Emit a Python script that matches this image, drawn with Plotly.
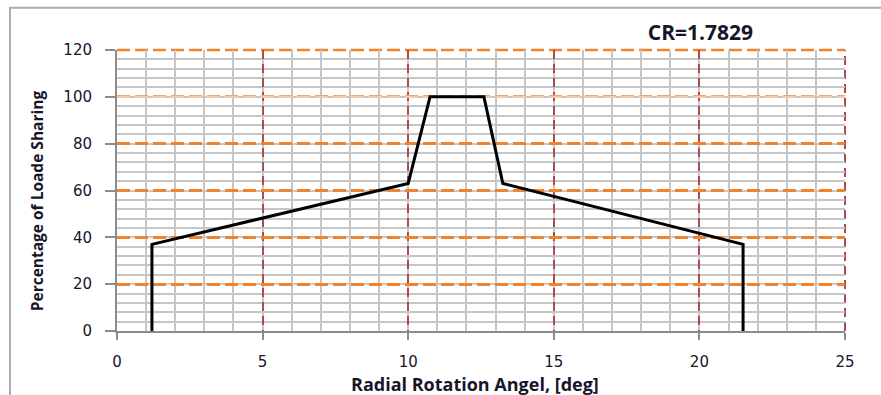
import plotly.graph_objects as go

# Load-sharing profile over the radial rotation angle
angle_deg = [1.2, 1.2, 10.0, 10.75, 12.6, 13.25, 21.5, 21.5]
load_share_pct = [0, 37, 63, 100, 100, 63, 37, 0]

x_ticks = [0, 5, 10, 15, 20, 25]
y_ticks = [0, 20, 40, 60, 80, 100, 120]
title_text = "CR=1.7829"
x_title = "Radial Rotation Angel, [deg]"
y_title = "Percentage of Loade Sharing"

ORANGE = "#F0832E"
LIGHT_ORANGE = "#F8C9A2"
DARK_RED = "#AE4A4E"
MINOR = "#C6C6C6"
AXIS = "#8C8C8C"
TEXT = "#16162a"

X_DASH = "9px,5px"
Y_DASH = "13px,5px"

fig = go.Figure()
fig.add_trace(go.Scatter(
    x=angle_deg, y=load_share_pct, mode="lines",
    line=dict(color="black", width=3), showlegend=False,
))

tick_font = dict(family="DejaVu Sans", size=15, color=TEXT)
title_font = dict(family="Open Sans", size=18, color=TEXT, weight="bold")

fig.update_layout(
    width=881, height=395,
    margin=dict(l=117, r=36, t=50, b=64, autoexpand=False),
    paper_bgcolor="white", plot_bgcolor="white",
    xaxis=dict(
        range=[0, 25], tickvals=x_ticks, showgrid=True,
        gridcolor=DARK_RED, gridwidth=2, griddash=X_DASH,
        minor=dict(dtick=1, showgrid=True, gridcolor=MINOR, gridwidth=1.5,
                   griddash="solid", ticks=""),
        showline=True, linecolor=AXIS, linewidth=2,
        ticks="outside", ticklen=7, tickcolor=AXIS, tickwidth=2,
        ticklabelstandoff=9,
        tickfont=tick_font, zeroline=False, automargin=False,
    ),
    yaxis=dict(
        range=[0, 120], tickvals=y_ticks, showgrid=True,
        gridcolor=ORANGE, gridwidth=2.5, griddash=Y_DASH,
        minor=dict(dtick=4, showgrid=True, gridcolor=MINOR, gridwidth=1.5,
                   griddash="solid", ticks=""),
        showline=True, linecolor=AXIS, linewidth=2,
        ticks="outside", ticklen=10, tickcolor=AXIS, tickwidth=2,
        ticklabelstandoff=10,
        tickfont=tick_font, zeroline=False, automargin=False,
    ),
    title=dict(text=title_text, x=0.795, xanchor="center", y=0.918, yanchor="middle",
               font=dict(family="Open Sans", size=21, color=TEXT, weight="bold")),
)

# axis titles
fig.add_annotation(text=x_title, xref="paper", yref="paper", x=0.492, y=-0.19,
                   xanchor="center", yanchor="middle", showarrow=False, font=title_font)
fig.add_annotation(text=y_title, xref="paper", yref="paper", x=-0.110, y=0.465,
                   xanchor="center", yanchor="middle", textangle=-90, showarrow=False,
                   font=dict(title_font, size=15.5))

# dashed rules on the far edges of the grid, and a lighter one at the 100 % level
fig.add_shape(type="line", xref="paper", yref="paper", x0=1, x1=1, y0=0, y1=1,
              line=dict(color=DARK_RED, width=2, dash=X_DASH), layer="between")
fig.add_shape(type="line", xref="paper", yref="paper", x0=0, x1=1, y0=1, y1=1,
              line=dict(color=ORANGE, width=2.5, dash=Y_DASH), layer="between")
fig.add_shape(type="line", xref="x", yref="y", x0=0, x1=25, y0=100, y1=100,
              line=dict(color=LIGHT_ORANGE, width=2.5, dash=Y_DASH), layer="between")

# outer chart frame
fig.add_shape(type="rect", xref="paper", yref="paper",
              x0=-0.147, x1=1.06, y0=-0.26, y1=1.15,
              line=dict(color="#ABABBE", width=2), fillcolor="rgba(0,0,0,0)", layer="below")

fig.write_html("out.html")
